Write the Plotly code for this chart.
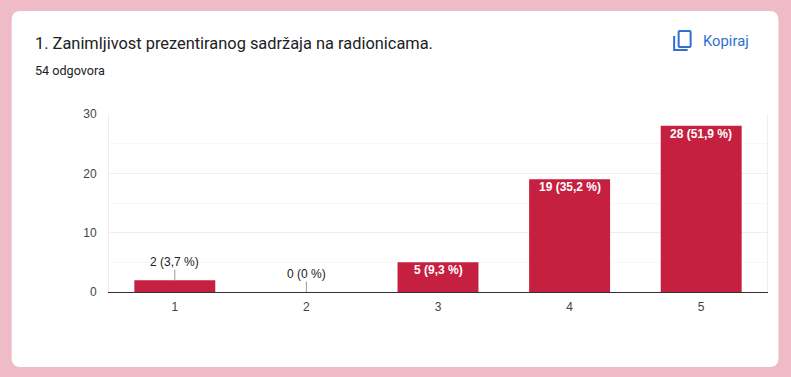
import plotly.graph_objects as go

categories = ["1", "2", "3", "4", "5"]
values = [2, 0, 5, 19, 28]
labels = ["2 (3,7 %)", "0 (0 %)", "5 (9,3 %)", "19 (35,2 %)", "28 (51,9 %)"]
y_ticks = [0, 10, 20, 30]
title_text = "1. Zanimljivost prezentiranog sadržaja na radionicama."
subtitle_text = "54 odgovora"
copy_text = "Kopiraj"

W, H = 791, 377
L, R, T, B = 108.5, 767.5, 114, 292


def px(x):
    return (x - L) / (R - L)


def py(y):
    return (B - y) / (B - T)


def path(cmds):
    return " ".join(f"{c[0]} {px(c[1]):.5f} {py(c[2]):.5f}" for c in cmds)


def rounded(x0, y0, x1, y1, r):
    parts = [
        f"M {px(x0 + r):.5f} {py(y0):.5f}",
        f"L {px(x1 - r):.5f} {py(y0):.5f}",
        f"Q {px(x1):.5f} {py(y0):.5f} {px(x1):.5f} {py(y0 + r):.5f}",
        f"L {px(x1):.5f} {py(y1 - r):.5f}",
        f"Q {px(x1):.5f} {py(y1):.5f} {px(x1 - r):.5f} {py(y1):.5f}",
        f"L {px(x0 + r):.5f} {py(y1):.5f}",
        f"Q {px(x0):.5f} {py(y1):.5f} {px(x0):.5f} {py(y1 - r):.5f}",
        f"L {px(x0):.5f} {py(y0 + r):.5f}",
        f"Q {px(x0):.5f} {py(y0):.5f} {px(x0 + r):.5f} {py(y0):.5f}",
        "Z",
    ]
    return " ".join(parts)


BLUE = "#2f6fd0"

fig = go.Figure(
    go.Bar(
        x=categories,
        y=values,
        marker=dict(color="#c5203f", line=dict(width=0)),
        hoverinfo="skip",
    )
)

for i, (v, lab) in enumerate(zip(values, labels)):
    if v < 5:
        fig.add_annotation(
            x=i, y=v, xref="x", yref="y", text=lab, showarrow=True,
            arrowhead=0, arrowwidth=1, arrowcolor="#999999",
            ax=0, ay=-18, standoff=0,
            font=dict(family="Liberation Sans", size=12, color="#222222"),
            borderpad=0,
        )
    else:
        fig.add_annotation(
            x=i, y=v, xref="x", yref="y", text=lab, showarrow=False,
            yanchor="top", yshift=0,
            font=dict(family="Liberation Sans", size=12, color="#ffffff", weight="bold"),
            borderpad=0,
        )


def label(x, y, text, size, color, family="Roboto"):
    fig.add_annotation(
        x=px(x), y=py(y), xref="paper", yref="paper", text=text, showarrow=False,
        xanchor="left", yanchor="middle",
        font=dict(family=family, size=size, color=color),
    )


label(32, 43, title_text, 16.4, "#202124")
label(32, 70.5, subtitle_text, 12.6, "#202124")
label(701, 41, copy_text, 14.8, BLUE)

shapes = [
    dict(type="path", xref="paper", yref="paper", layer="below",
         path=rounded(11, 11, 779, 367, 9), fillcolor="#ffffff", line=dict(width=0)),
    dict(type="path", xref="paper", yref="paper", layer="above",
         path=rounded(679, 31, 691, 47, 1), line=dict(color=BLUE, width=2)),
    dict(type="path", xref="paper", yref="paper", layer="above",
         path=path([("M", 674.5, 36), ("L", 674.5, 50), ("L", 688, 50)]),
         line=dict(color=BLUE, width=2)),
]

fig.update_layout(
    width=W, height=H, autosize=False,
    margin=dict(l=L, r=W - R, t=T, b=H - B, pad=0),
    paper_bgcolor="#eebbc6",
    plot_bgcolor="rgba(0,0,0,0)",
    bargap=0.385,
    showlegend=False,
    shapes=shapes,
    xaxis=dict(
        type="category", showgrid=False, showline=True, linecolor="#333333", linewidth=1,
        ticks="", tickfont=dict(family="Liberation Sans", size=12, color="#444444"),
        ticklabelstandoff=4, zeroline=False,
    ),
    yaxis=dict(
        range=[0, 30], tickvals=y_ticks, showgrid=True, gridcolor="#eeeeee", gridwidth=1,
        minor=dict(dtick=5, showgrid=True, gridcolor="#f7f7f7", gridwidth=1),
        showline=True, mirror=True, linecolor="#eeeeee", linewidth=1, zeroline=False,
        ticks="", tickfont=dict(family="Liberation Sans", size=12, color="#444444"),
        ticklabelstandoff=9,
    ),
)

fig.write_html(
    "out.html",
    config=dict(displayModeBar=False),
    post_script="document.body.style.margin='0';document.documentElement.style.overflow='hidden';",
)
